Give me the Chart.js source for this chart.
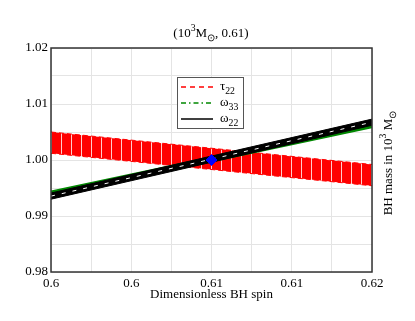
<!DOCTYPE html>
<html>
<head>
<meta charset="utf-8">
<script src="https://cdn.jsdelivr.net/npm/chart.js@4/dist/chart.umd.min.js"></script>
<style>
  html, body { margin: 0; padding: 0; background: #fff; }
  #wrap { width: 415px; height: 321px; }
</style>
</head>
<body>
<div id="wrap"><canvas id="spinChart" width="415" height="321"></canvas></div>
<script>
// spin values at the two ends of the plotted range
var spin = [0.6, 0.62];

// tau_22 band (mass in 10^3 Msun)
var tau22Upper = [1.0050, 0.9992];
var tau22Lower = [1.0012, 0.9954];

// omega_33 band
var omega33Upper = [0.9944, 1.0066];
var omega33Lower = [0.9936, 1.0058];

// omega_22 band
var omega22Upper = [0.9941, 1.0073];
var omega22Lower = [0.9930, 1.0062];
var omega22Mid   = [0.99355, 1.00675];

// true value marker
var truthSpin = [0.61];
var truthMass = [1.00];

var xTickLabels = ['0.6', '0.6', '0.61', '0.61', '0.62'];
var yTickLabels = ['0.98', '0.99', '1.00', '1.01', '1.02'];

var serif = "'Liberation Serif', 'Times New Roman', serif";

function pts(xs, ys) {
    return xs.map(function (x, i) { return { x: x, y: ys[i] }; });
}

// red fill with thin white hatch lines
var hatch = document.createElement('canvas');
hatch.width = 10; hatch.height = 10;
var hctx = hatch.getContext('2d');
hctx.fillStyle = '#ff0000';
hctx.fillRect(0, 0, 10, 10);
hctx.fillStyle = 'rgba(255,255,255,0.8)';
hctx.fillRect(1, 0, 1, 10);
var redPattern = hctx.createPattern(hatch, 'repeat');

// draws text with sub/superscript parts: [text, kind]
function richText(ctx, parts, x, y, size, align) {
    var w = 0;
    parts.forEach(function (p) {
        ctx.font = (p[1] ? size * 0.75 : size) + 'px ' + serif;
        w += ctx.measureText(p[0]).width;
    });
    var cx = align === 'center' ? x - w / 2 : x;
    parts.forEach(function (p) {
        var s = p[1] ? size * 0.75 : size;
        ctx.font = s + 'px ' + serif;
        var dy = p[1] === 'sup' ? -size * 0.45 : (p[1] === 'sub' ? size * 0.3 : 0);
        ctx.fillText(p[0], cx, y + dy);
        cx += ctx.measureText(p[0]).width;
    });
}

var extras = {
    id: 'extras',
    afterDraw: function (chart) {
        var ctx = chart.ctx;
        var a = chart.chartArea;
        ctx.save();
        // frame
        ctx.strokeStyle = '#333';
        ctx.lineWidth = 1.5;
        ctx.strokeRect(a.left, a.top, a.right - a.left, a.bottom - a.top);

        ctx.fillStyle = '#000';
        ctx.textBaseline = 'alphabetic';
        // title
        richText(ctx, [['(10', ''], ['3', 'sup'], ['M', ''], ['\u2299', 'sub'], [', 0.61)', '']],
                 211, 37, 13, 'center');

        // right axis title
        ctx.save();
        ctx.translate(392, 163);
        ctx.rotate(-Math.PI / 2);
        richText(ctx, [['BH mass in 10', ''], ['3', 'sup'], [' M', ''], ['\u2299', 'sub']],
                 0, 0, 13, 'center');
        ctx.restore();

        // legend
        var lx = 177, ly = 77, lw = 66, lh = 51;
        ctx.fillStyle = '#fff';
        ctx.fillRect(lx, ly, lw, lh);
        ctx.strokeStyle = '#555';
        ctx.lineWidth = 1;
        ctx.strokeRect(lx + 0.5, ly + 0.5, lw, lh);
        var rows = [
            { color: '#ff0000', dash: [5, 4], name: '\u03c4', sub: '22', y: 87 },
            { color: '#008800', dash: [5, 3, 1.5, 3], name: '\u03c9', sub: '33', y: 103 },
            { color: '#000000', dash: [], name: '\u03c9', sub: '22', y: 119 }
        ];
        rows.forEach(function (r) {
            ctx.strokeStyle = r.color;
            ctx.lineWidth = 1.5;
            ctx.setLineDash(r.dash);
            ctx.beginPath();
            ctx.moveTo(181, r.y);
            ctx.lineTo(213, r.y);
            ctx.stroke();
            ctx.setLineDash([]);
            ctx.fillStyle = '#000';
            richText(ctx, [[r.name, ''], [r.sub, 'sub']], 220, r.y + 3, 13, 'left');
        });
        ctx.restore();
    }
};

new Chart(document.getElementById('spinChart'), {
    type: 'line',
    data: {
        datasets: [
            {
                data: pts(truthSpin, truthMass),
                showLine: false,
                pointStyle: 'rectRot',
                pointRadius: 5.5,
                pointBackgroundColor: '#0000ff',
                pointBorderColor: '#0000ff',
                order: 0
            },
            {
                data: pts(spin, omega22Mid),
                borderColor: '#ffffff',
                borderWidth: 1,
                borderDash: [4, 7],
                pointRadius: 0,
                fill: false,
                order: 1
            },
            {
                data: pts(spin, omega22Lower),
                borderColor: '#000',
                borderWidth: 1,
                pointRadius: 0,
                fill: false,
                order: 2
            },
            {
                data: pts(spin, omega22Upper),
                borderColor: '#000',
                borderWidth: 1,
                backgroundColor: '#000',
                pointRadius: 0,
                fill: '-1',
                order: 2
            },
            {
                data: pts(spin, omega33Lower),
                borderColor: '#008800',
                borderWidth: 1.5,
                pointRadius: 0,
                fill: false,
                order: 3
            },
            {
                data: pts(spin, omega33Upper),
                borderColor: '#008800',
                borderWidth: 1.5,
                backgroundColor: '#008800',
                pointRadius: 0,
                fill: '-1',
                order: 3
            },
            {
                data: pts(spin, tau22Lower),
                borderColor: '#ff0000',
                borderWidth: 1,
                borderDash: [5, 3],
                pointRadius: 0,
                fill: false,
                order: 4
            },
            {
                data: pts(spin, tau22Upper),
                borderColor: '#ff0000',
                borderWidth: 1,
                borderDash: [5, 3],
                backgroundColor: redPattern,
                pointRadius: 0,
                fill: '-1',
                order: 4
            }
        ]
    },
    options: {
        responsive: false,
        animation: false,
        layout: { padding: { left: 0, top: 48, right: 43, bottom: 19 } },
        plugins: {
            legend: { display: false },
            tooltip: { enabled: false }
        },
        scales: {
            x: {
                type: 'linear',
                min: 0.6,
                max: 0.62,
                afterFit: function (s) { s.height = 30; },
                grid: { color: '#e4e4e4', drawTicks: false },
                border: { display: false },
                ticks: {
                    stepSize: 0.0025,
                    padding: 4,
                    color: '#000',
                    font: { family: serif, size: 13 },
                    maxRotation: 0,
                    autoSkip: false,
                    callback: function (v, i) { return i % 2 === 0 ? xTickLabels[i / 2] : ''; }
                },
                title: {
                    display: true,
                    text: 'Dimensionless BH spin',
                    color: '#000',
                    font: { family: serif, size: 13 },
                    padding: { top: 0, bottom: 0 }
                }
            },
            y: {
                min: 0.98,
                max: 1.02,
                afterFit: function (s) { s.width = 51; },
                grid: { color: '#e4e4e4', drawTicks: false },
                border: { display: false },
                ticks: {
                    stepSize: 0.005,
                    padding: 3,
                    color: '#000',
                    font: { family: serif, size: 13 },
                    autoSkip: false,
                    callback: function (v, i) { return i % 2 === 0 ? yTickLabels[i / 2] : ''; }
                }
            }
        }
    },
    plugins: [extras]
});
</script>
</body>
</html>
